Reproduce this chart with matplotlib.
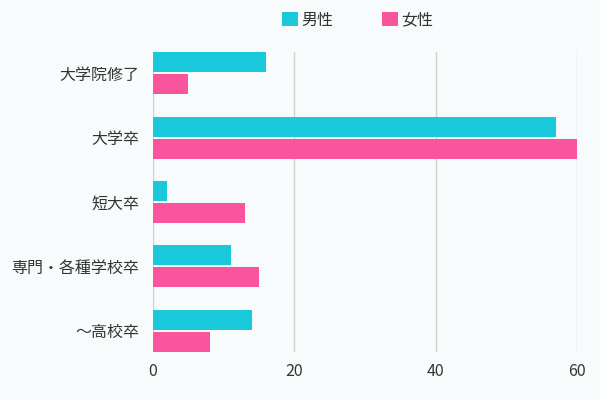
import matplotlib.pyplot as plt
import numpy as np

plt.rcParams['font.family'] = ['Noto Sans CJK JP', 'DejaVu Sans']

categories = ['大学院修了', '大学卒', '短大卒', '専門・各種学校卒', '～高校卒']
male = [16, 57, 2, 11, 14]
female = [5, 60, 13, 15, 8]
series_names = ['男性', '女性']
xticks = [0, 20, 40, 60]

bg = '#f8fbfc'
fig = plt.figure(figsize=(6, 4), dpi=100, facecolor=bg)
ax = fig.add_axes([0.255, 0.12, 0.7067, 0.75], facecolor=bg)

y = np.arange(len(categories))
h = 0.31
ax.barh(y - h / 2 - 0.015, male, height=h, color='#1ac8db', label=series_names[0], zorder=3)
ax.barh(y + h / 2 + 0.015, female, height=h, color='#f9559e', label=series_names[1], zorder=3)

ax.set_ylim(4.33, -0.33)
ax.set_xlim(0, 60)
ax.set_yticks(y)
ax.set_yticklabels(categories, fontsize=11.5, color='#333333')
ax.set_xticks(xticks)
ax.set_xticklabels([str(t) for t in xticks], fontsize=11.5, color='#333333')
ax.tick_params(length=0, pad=8)
ax.tick_params(axis='y', pad=10)
ax.grid(axis='x', color='#d0d0d0', linewidth=1, zorder=0)
for s in ax.spines.values():
    s.set_visible(False)

fig.legend(loc='upper center', bbox_to_anchor=(0.596, 1.007), ncol=2, frameon=False,
           fontsize=11.5, handlelength=1.0, handleheight=1.0, handletextpad=0.2,
           columnspacing=3.0, labelcolor='#333333')

fig.savefig('out.png', dpi=100, facecolor=bg)
